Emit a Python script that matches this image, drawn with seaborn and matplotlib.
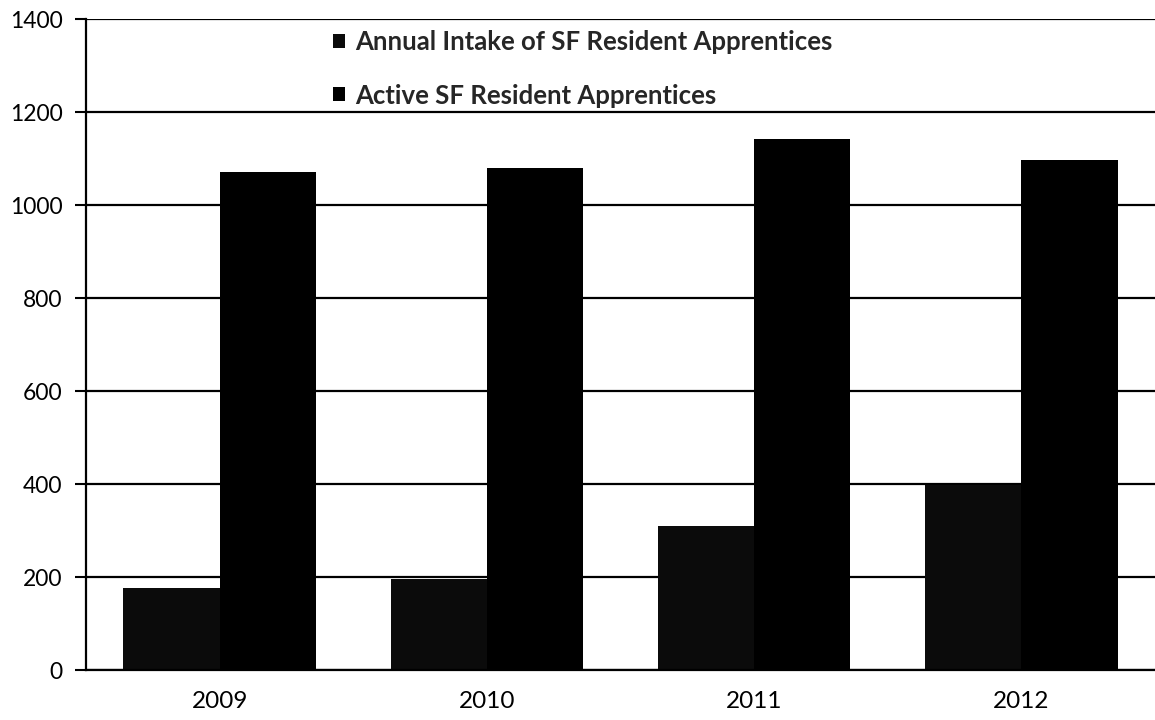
import seaborn as sns
import matplotlib
matplotlib.use('Agg')
import matplotlib.pyplot as plt
import pandas as pd

years = ['2009', '2010', '2011', '2012']
intake = [176, 197, 311, 398]
active = [1072, 1080, 1142, 1097]
series_names = ['Annual Intake of SF Resident Apprentices', 'Active SF Resident Apprentices']
y_ticks = [0, 200, 400, 600, 800, 1000, 1200, 1400]

df = pd.DataFrame({
    'year': years * 2,
    'value': intake + active,
    'series': [series_names[0]] * len(years) + [series_names[1]] * len(years),
})

sns.set_theme(style='white')
plt.rcParams['font.family'] = ['Lato', 'DejaVu Sans']

fig = plt.figure(figsize=(11.55, 7.2), dpi=100)
ax = fig.add_axes([0.0745, 0.069, 0.9255, 0.9045])

sns.barplot(data=df, x='year', y='value', hue='series', order=years,
            hue_order=series_names, palette=['#0b0b0b', '#000000'],
            width=0.72, gap=0, saturation=1, linewidth=0, ax=ax)

ax.set_ylim(0, 1400)
ax.set_xlim(-0.5, 3.5)
ax.set_yticks(y_ticks)
ax.set_yticklabels([str(v) for v in y_ticks])
ax.yaxis.grid(True, color='black', linewidth=1.6)
ax.set_axisbelow(True)
ax.set_xlabel('')
ax.set_ylabel('')

# ticks between categories, labels centred
ax.set_xticks([0, 1, 2, 3])
ax.set_xticks([-0.5, 0.5, 1.5, 2.5, 3.5], minor=True)
ax.tick_params(axis='x', which='major', length=0, pad=15, labelsize=17.5, colors='black')
ax.tick_params(axis='x', which='minor', length=8, width=1.5, direction='out', color='black')
ax.tick_params(axis='y', length=8, width=1.5, direction='out', pad=9, labelsize=16.5,
               colors='black', left=True)

for side in ['top', 'right']:
    ax.spines[side].set_visible(False)
for side in ['left', 'bottom']:
    ax.spines[side].set_color('black')
    ax.spines[side].set_linewidth(1.6)

handles, labels = ax.get_legend_handles_labels()
ax.legend(handles, labels, loc='upper left', bbox_to_anchor=(333 / 1155, 1 - 30 / 720),
          bbox_transform=fig.transFigure, frameon=False, borderpad=0, borderaxespad=0,
          handlelength=0.45, handleheight=0.45, handletextpad=0.4, labelspacing=1.15,
          prop={'weight': 'bold', 'size': 18.5})

fig.savefig('out.png', dpi=100)
plt.close(fig)
